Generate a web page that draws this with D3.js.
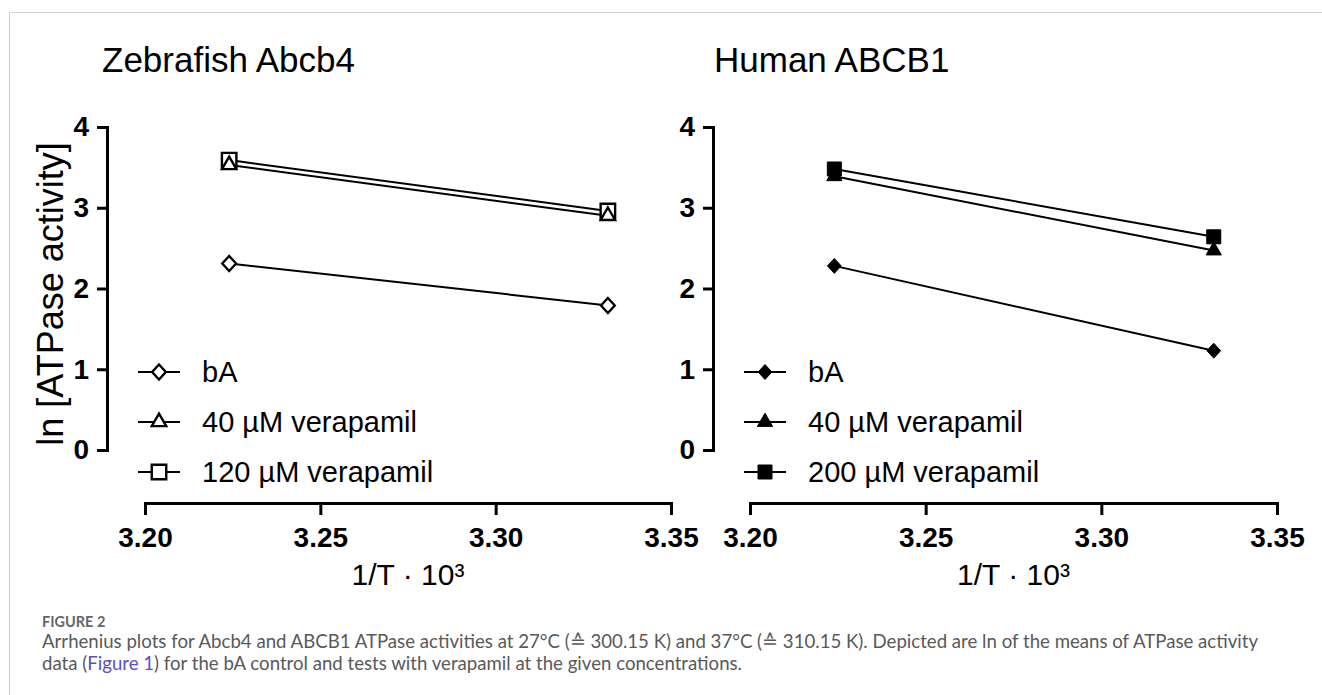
<!DOCTYPE html>
<html><head><meta charset="utf-8">
<script src="https://cdn.jsdelivr.net/npm/d3@7"></script>
<style>html,body{margin:0;padding:0;background:#fff;overflow:hidden}</style>
</head><body>
<svg id="c" width="1322" height="695"></svg>
<script>
// ---------------- data ----------------
const xValues = [3.224, 3.332];              // 1/T · 10³ for 37 °C and 27 °C
const xTickValues = [3.20, 3.25, 3.30, 3.35];
const yTickValues = [0, 1, 2, 3, 4];
const zebrafishTitle = "Zebrafish Abcb4";
const humanTitle = "Human ABCB1";
const zebrafishLabels = ["bA", "40 µM verapamil", "120 µM verapamil"];
const humanLabels = ["bA", "40 µM verapamil", "200 µM verapamil"];
const zebrafishBA = [2.31, 1.79];
const zebrafish40 = [3.53, 2.90];
const zebrafish120 = [3.59, 2.96];
const humanBA = [2.28, 1.23];
const human40 = [3.39, 2.47];
const human200 = [3.48, 2.64];
const yAxisLabel = "ln [ATPase activity]";
const xAxisLabel = "1/T · 10³";
const captionHead = "FIGURE 2";
const captionLine1 = "Arrhenius plots for Abcb4 and ABCB1 ATPase activities at 27°C (≙ 300.15 K) and 37°C (≙ 310.15 K). Depicted are ln of the means of ATPase activity";
const captionLine2 = ["data (", "Figure 1", ") for the bA control and tests with verapamil at the given concentrations."];

// ---------------- drawing ----------------
const svg = d3.select("#c");
const FONT = "'Liberation Sans', Arial, Helvetica, sans-serif";

// page frame
svg.append("line").attr("x1", 9.5).attr("x2", 1322).attr("y1", 12.5).attr("y2", 12.5).attr("stroke", "#cfcfcf");
svg.append("line").attr("x1", 9.5).attr("x2", 9.5).attr("y1", 12.5).attr("y2", 695).attr("stroke", "#cfcfcf");

const diamond = { draw(ctx, size) { const h = Math.sqrt(size), w = h * 0.92; ctx.moveTo(0, -h); ctx.lineTo(w, 0); ctx.lineTo(0, h); ctx.lineTo(-w, 0); ctx.closePath(); } };

function panel(opts) {
  const g = svg.append("g");
  const x = d3.scaleLinear().domain([3.20, 3.35]).range(opts.xRange);
  const y = d3.scaleLinear().domain([0, 4]).range([450, 127]);

  // lines
  const line = d3.line().x((d, i) => x(xValues[i])).y(d => y(d));
  opts.series.forEach(s => {
    g.append("path").datum(s.values).attr("d", line)
      .attr("fill", "none").attr("stroke", "#000").attr("stroke-width", 2);
  });
  // markers
  opts.series.slice().reverse().forEach(s => {
    g.selectAll(null).data(s.values).enter().append("path")
      .attr("transform", (d, i) => `translate(${x(xValues[i])},${y(d)})`)
      .attr("d", d3.symbol().type(s.symbol).size(s.size))
      .attr("fill", opts.open ? "#fff" : "#000")
      .attr("stroke", "#000").attr("stroke-width", opts.open ? 2.4 : 1);
  });

  // axes
  const yAxis = d3.axisLeft(y).tickValues(yTickValues).tickFormat(d3.format("d")).tickSize(10).tickSizeOuter(0).tickPadding(8);
  const gy = g.append("g").attr("transform", `translate(${opts.yAxisX},0)`).call(yAxis);
  const xAxis = d3.axisBottom(x).tickValues(xTickValues).tickFormat(d3.format(".2f")).tickSize(12).tickSizeOuter(0).tickPadding(12);
  const gx = g.append("g").attr("transform", `translate(0,503)`).call(xAxis);
  [gx, gy].forEach(a => {
    a.select(".domain").attr("stroke-width", 3).attr("stroke-linecap", "square");
    a.selectAll(".tick line").attr("stroke-width", 3);
    a.selectAll(".tick text").attr("font-family", FONT).attr("font-weight", "bold").attr("font-size", 28).attr("fill", "#000");
  });

  // titles
  g.append("text").attr("x", opts.titleX).attr("y", 72).attr("font-family", FONT).attr("font-size", 35).text(opts.title);
  g.append("text").attr("x", (opts.xRange[0] + opts.xRange[1]) / 2).attr("y", 585).attr("text-anchor", "middle")
    .attr("font-family", FONT).attr("font-size", 30).text(xAxisLabel);

  // legend
  const rows = [372, 422, 472];
  opts.series.forEach((s, i) => {
    const lx = opts.yAxisX;
    g.append("line").attr("x1", lx + 31).attr("x2", lx + 73).attr("y1", rows[i]).attr("y2", rows[i]).attr("stroke", "#000").attr("stroke-width", 2);
    g.append("path").attr("transform", `translate(${lx + 52},${rows[i]})`)
      .attr("d", d3.symbol().type(s.symbol).size(s.size))
      .attr("fill", opts.open ? "#fff" : "#000").attr("stroke", "#000").attr("stroke-width", opts.open ? 2.4 : 1);
    g.append("text").attr("x", lx + 95).attr("y", rows[i]).attr("dy", "0.36em")
      .attr("font-family", FONT).attr("font-size", 29).text(opts.labels[i]);
  });
}

panel({
  xRange: [145, 671], yAxisX: 107, titleX: 102, title: zebrafishTitle, open: true, labels: zebrafishLabels,
  series: [
    { values: zebrafishBA, symbol: diamond, size: 56 },
    { values: zebrafish40, symbol: d3.symbolTriangle, size: 90 },
    { values: zebrafish120, symbol: d3.symbolSquare, size: 210 }
  ]
});
panel({
  xRange: [750, 1277], yAxisX: 713, titleX: 714, title: humanTitle, open: false, labels: humanLabels,
  series: [
    { values: humanBA, symbol: diamond, size: 56 },
    { values: human40, symbol: d3.symbolTriangle, size: 100 },
    { values: human200, symbol: d3.symbolSquare, size: 196 }
  ]
});

// y-axis label
svg.append("text").attr("transform", "translate(63,294) rotate(-90)").attr("text-anchor", "middle")
  .attr("font-family", FONT).attr("font-size", 36).text(yAxisLabel);

// caption
const CF = "Lato, 'Open Sans', 'Noto Sans', sans-serif";
svg.append("text").attr("x", 42).attr("y", 627).attr("font-family", CF).attr("font-weight", 700)
  .attr("font-size", 14.5).attr("fill", "#666").text(captionHead);
const c1 = svg.append("text").attr("x", 42).attr("y", 648).attr("font-family", CF).attr("font-size", 16).attr("fill", "#595959").text(captionLine1);
const w = c1.node().getComputedTextLength();
const fs = 16 * 1215 / w;
c1.attr("font-size", fs);
const c2 = svg.append("text").attr("x", 42).attr("y", 670).attr("font-family", CF).attr("font-size", fs).attr("fill", "#595959");
captionLine2.forEach((t, i) => c2.append("tspan").attr("fill", i === 1 ? "#5a4fc0" : "#595959").text(t));
</script>
</body></html>
